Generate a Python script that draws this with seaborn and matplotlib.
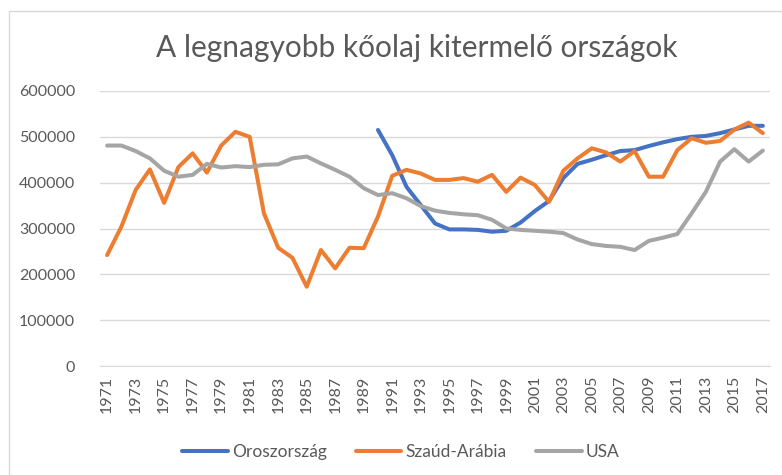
import numpy as np
import pandas as pd
import matplotlib
matplotlib.use("Agg")
import matplotlib.pyplot as plt
import seaborn as sns
from matplotlib.patches import Rectangle

years = list(range(1971, 2018))

russia = [np.nan] * 19 + [
    515000, 460000, 391000, 351000, 311000, 298000, 298000, 297000, 293000, 295000,
    313000, 338000, 360000, 410000, 441000, 450000, 460000, 469000, 471000, 480000,
    488000, 495000, 500000, 502000, 508000, 516000, 524000, 524000,
]

saudi = [
    242000, 304000, 384000, 429000, 356000, 434000, 464000, 422000, 481000, 511000,
    500000, 333000, 258000, 236000, 173000, 253000, 213000, 258000, 257000, 326000,
    415000, 428000, 420000, 406000, 406000, 410000, 402000, 417000, 380000, 411000,
    395000, 358000, 426000, 453000, 475000, 466000, 446000, 469000, 413000, 413000,
    471000, 497000, 487000, 491000, 516000, 531000, 508000,
]

usa = [
    481000, 481000, 469000, 453000, 426000, 413000, 417000, 441000, 433000, 436000,
    434000, 439000, 440000, 453000, 457000, 442000, 428000, 413000, 388000, 373000,
    377000, 366000, 349000, 339000, 334000, 331000, 329000, 319000, 300000, 297000,
    295000, 293000, 290000, 276000, 266000, 262000, 260000, 253000, 273000, 280000,
    288000, 333000, 380000, 446000, 473000, 446000, 470000,
]

series_names = ["Oroszország", "Szaúd-Arábia", "USA"]
colors = ["#4472C4", "#ED7D31", "#A5A5A5"]

df = pd.DataFrame({
    "ev": years * 3,
    "termeles": russia + saudi + usa,
    "orszag": [series_names[0]] * len(years) + [series_names[1]] * len(years) + [series_names[2]] * len(years),
})

sns.set_style("white")
plt.rcParams["font.family"] = ["Lato", "DejaVu Sans"]
text_col = "#595959"

fig = plt.figure(figsize=(7.82, 4.75), dpi=100)
ax = fig.add_axes([100 / 782, (475 - 366) / 475, 670 / 782, 275 / 475])

sns.lineplot(data=df, x="ev", y="termeles", hue="orszag", palette=colors,
             linewidth=2.9, ax=ax, legend=True)

ax.set_xlim(1970.5, 2017.5)
ax.set_ylim(0, 600000)
ax.set_yticks(range(0, 600001, 100000))
ax.set_yticklabels([str(v) for v in range(0, 600001, 100000)])
ax.set_xticks(years[::2])
ax.set_xticklabels([str(y) for y in years[::2]], rotation=90)
ax.tick_params(axis="both", length=0, labelsize=11.5, colors=text_col)
ax.tick_params(axis="y", pad=18)
ax.tick_params(axis="x", pad=7)
ax.grid(axis="y", color="#D9D9D9", linewidth=1)
ax.set_axisbelow(True)
for s in ["top", "right", "left"]:
    ax.spines[s].set_visible(False)
ax.spines["bottom"].set_color("#D9D9D9")
ax.set_xlabel("")
ax.set_ylabel("")

# chart title, centred over the whole (cropped) chart area like the original
fig.text(417 / 782, (475 - 48) / 475, "A legnagyobb kőolaj kitermelő országok",
         ha="center", va="center", fontsize=21.5, color=text_col)

handles, labels = ax.get_legend_handles_labels()
ax.legend(handles, labels, loc="center", bbox_to_anchor=(401 / 782, 1 - 452 / 475),
          bbox_transform=fig.transFigure, ncol=3, frameon=False,
          fontsize=12.5, labelcolor=text_col, handlelength=2.6,
          handletextpad=0.25, columnspacing=1.7)

fig.patches.append(Rectangle((9 / 782, -0.1), 1.2, (475 - 11) / 475 + 0.1,
                             transform=fig.transFigure, fill=False,
                             edgecolor="#D9D9D9", linewidth=1))

fig.savefig("out.png", dpi=100, facecolor="white")
